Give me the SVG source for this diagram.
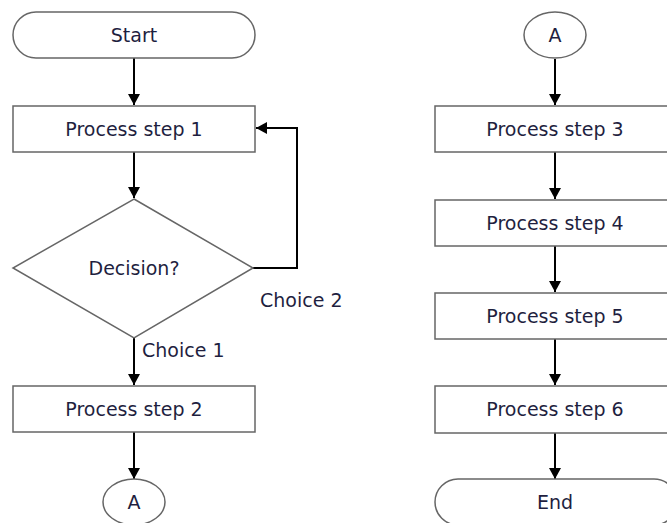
<svg xmlns="http://www.w3.org/2000/svg" width="667" height="523" viewBox="0 0 667 523">
<defs>
<marker id="ah" markerWidth="12" markerHeight="12" refX="11" refY="6" orient="auto" markerUnits="userSpaceOnUse">
<path d="M0,0 L11,6 L0,12 Z" fill="#000"/>
</marker>
<style>
.s{fill:#fff;stroke:#666;stroke-width:1.5}
.t{font-family:"DejaVu Sans",Verdana,sans-serif;font-size:19px;fill:#1f1f3f;text-anchor:middle}
.l{font-family:"DejaVu Sans",Verdana,sans-serif;font-size:19px;fill:#1f1f3f}
.c{fill:none;stroke:#000;stroke-width:2;marker-end:url(#ah)}
</style>
</defs>
<rect width="667" height="523" fill="#fff"/>
<g id="connectors">
<path class="c" d="M134,58 V105"/>
<path class="c" d="M134,152 V198"/>
<path class="c" d="M253,268 H297 V128 H256"/>
<path class="c" d="M134,338 V385"/>
<path class="c" d="M134,432 V479"/>
<path class="c" d="M555,59 V105"/>
<path class="c" d="M555,152 V199"/>
<path class="c" d="M555,246 V292"/>
<path class="c" d="M555,339 V385"/>
<path class="c" d="M555,433 V479"/>
</g>
<g id="start"><rect class="s" x="13" y="12" width="242" height="46" rx="23" ry="23"/><text class="t" x="134" y="42">Start</text></g>
<g id="p1"><rect class="s" x="13" y="106" width="242" height="46"/><text class="t" x="134" y="136">Process step 1</text></g>
<g id="decision"><polygon class="s" points="134,199 253,268 134,338 13,268"/><text class="t" x="134" y="275">Decision?</text></g>
<g id="p2"><rect class="s" x="13" y="386" width="242" height="46"/><text class="t" x="134" y="416">Process step 2</text></g>
<g id="a1"><ellipse class="s" cx="134" cy="502" rx="31" ry="23"/><text class="t" x="134" y="509">A</text></g>
<g id="labels"><text class="l" x="260" y="307">Choice 2</text><text class="l" x="142" y="357">Choice 1</text></g>
<g id="a2"><ellipse class="s" cx="555" cy="35" rx="31" ry="23"/><text class="t" x="555" y="42">A</text></g>
<g id="p3"><rect class="s" x="435" y="106" width="241" height="46"/><text class="t" x="555" y="136">Process step 3</text></g>
<g id="p4"><rect class="s" x="435" y="200" width="241" height="46"/><text class="t" x="555" y="230">Process step 4</text></g>
<g id="p5"><rect class="s" x="435" y="293" width="241" height="46"/><text class="t" x="555" y="323">Process step 5</text></g>
<g id="p6"><rect class="s" x="435" y="386" width="241" height="47"/><text class="t" x="555" y="416">Process step 6</text></g>
<g id="end"><rect class="s" x="435" y="479" width="242" height="46" rx="23" ry="23"/><text class="t" x="555" y="509">End</text></g>
</svg>
